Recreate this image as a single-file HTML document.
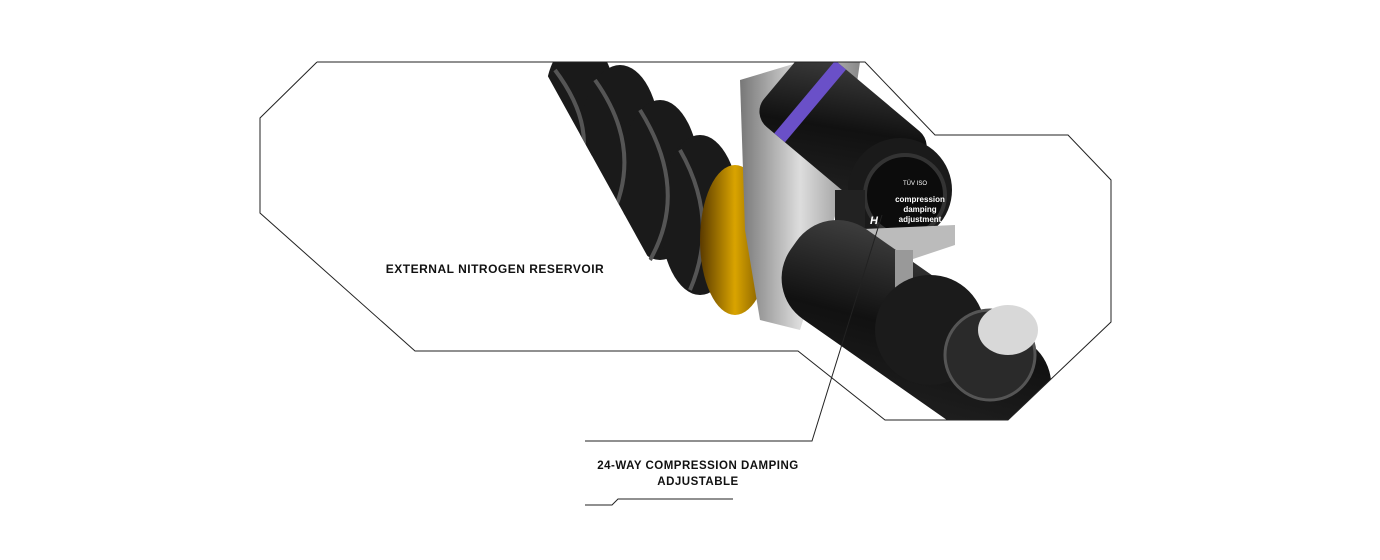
<!DOCTYPE html>
<html><head><style>
html,body{margin:0;padding:0;background:#fff;width:1380px;height:560px;overflow:hidden}
.t{position:absolute;font-family:"Liberation Sans",sans-serif;font-size:12px;font-weight:bold;letter-spacing:0.5px;color:#111;text-align:center}
</style></head><body>
<svg width="1380" height="560" style="position:absolute;left:0;top:0">
<defs>
<linearGradient id="dk" x1="0" y1="0" x2="1" y2="1"><stop offset="0" stop-color="#444"/><stop offset=".5" stop-color="#111"/><stop offset="1" stop-color="#222"/></linearGradient>
<linearGradient id="sil" x1="0" y1="0" x2="1" y2="0"><stop offset="0" stop-color="#777"/><stop offset=".5" stop-color="#ddd"/><stop offset="1" stop-color="#888"/></linearGradient>
<linearGradient id="gold" x1="0" y1="0" x2="1" y2="0"><stop offset="0" stop-color="#5a3a00"/><stop offset=".5" stop-color="#d9a400"/><stop offset="1" stop-color="#6b4a00"/></linearGradient>
<clipPath id="c"><polygon points="540,62 865,62 935,135 1068,135 1111,180 1111,322 1008,420 885,420 798,351 700,351 540,62"/></clipPath>
</defs>
<g clip-path="url(#c)">
<g fill="#1a1a1a">
<ellipse cx="580" cy="100" rx="35" ry="60"/>
<ellipse cx="620" cy="140" rx="40" ry="75"/>
<ellipse cx="660" cy="180" rx="40" ry="80"/>
<ellipse cx="700" cy="215" rx="40" ry="80"/>
</g>
<g stroke="#555" stroke-width="4" fill="none">
<path d="M555 70 Q600 130 575 180"/><path d="M595 80 Q645 150 610 220"/><path d="M640 110 Q690 190 650 260"/><path d="M680 150 Q720 220 690 290"/>
</g>
<ellipse cx="735" cy="240" rx="35" ry="75" fill="url(#gold)"/>
<path d="M740 80 L800 62 L860 62 L840 200 L800 330 L760 320 L745 230Z" fill="url(#sil)"/>
<g transform="rotate(40 860 140)">
<rect x="760" y="95" width="160" height="95" rx="20" fill="url(#dk)"/>
<rect x="790" y="95" width="14" height="95" fill="#6a50c8"/>
</g>
<circle cx="900" cy="190" r="52" fill="#1a1a1a"/>
<circle cx="905" cy="195" r="40" fill="#0c0c0c" stroke="#333" stroke-width="4"/>
<path d="M840 230 L955 225 L955 245 L880 270 L840 260Z" fill="#bbb"/>
<rect x="835" y="190" width="30" height="70" fill="#222"/>
<g transform="rotate(35 900 320)">
<rect x="770" y="265" width="300" height="110" rx="50" fill="url(#dk)"/>
</g>
<rect x="895" y="250" width="18" height="40" fill="#999"/>
<circle cx="930" cy="330" r="55" fill="#1b1b1b"/>
<ellipse cx="990" cy="355" rx="45" ry="45" fill="#2a2a2a" stroke="#555" stroke-width="3"/>
<ellipse cx="1008" cy="330" rx="30" ry="25" fill="#d8d8d8"/>
</g>
<text x="915" y="185" fill="#fff" font-family="Liberation Sans" font-size="6" text-anchor="middle">TÜV ISO</text>
<text x="920" y="202" fill="#fff" font-family="Liberation Sans" font-size="8" font-weight="bold" text-anchor="middle">compression</text>
<text x="920" y="212" fill="#fff" font-family="Liberation Sans" font-size="8" font-weight="bold" text-anchor="middle">damping</text>
<text x="920" y="222" fill="#fff" font-family="Liberation Sans" font-size="8" font-weight="bold" text-anchor="middle">adjustment</text>
<text x="870" y="224" fill="#fff" font-family="Liberation Sans" font-size="11" font-weight="bold" font-style="italic">H</text>
<g fill="none" stroke="#222" stroke-width="1">
<polyline points="317,62 865,62 935,135 1068,135 1111,180 1111,322 1008,420 885,420 798,351 415,351 260,213 260,118 317,62"/>
<polyline points="882,215 812,441 585,441"/>
<polyline points="585,505 612,505 618,499 733,499"/>
</g>
</svg>
<div class="t" style="left:380px;top:262px;width:230px">EXTERNAL NITROGEN RESERVOIR</div>
<div class="t" style="left:548px;top:458px;width:300px;line-height:16px;font-size:11.5px">24-WAY COMPRESSION DAMPING<br>ADJUSTABLE</div>
</body></html>
